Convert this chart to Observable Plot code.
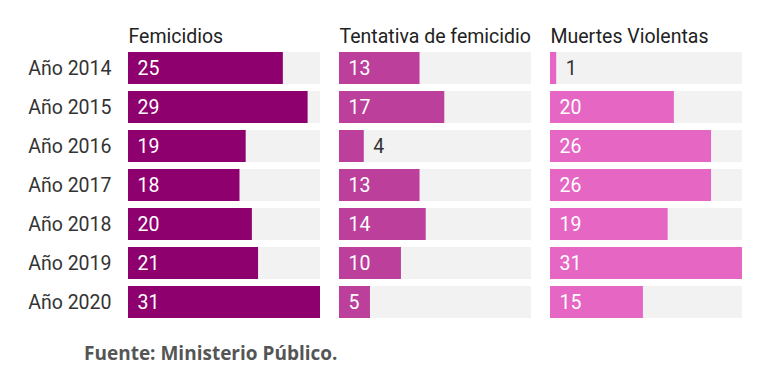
<!DOCTYPE html>
<html>
<head>
<meta charset="utf-8">
<script src="https://cdn.jsdelivr.net/npm/d3@7"></script>
<script src="https://cdn.jsdelivr.net/npm/@observablehq/plot@0.6"></script>
<style>
  html, body { margin: 0; padding: 0; background: #fff; }
  #wrap { position: relative; width: 768px; height: 377px; }
  #footer { position: absolute; left: 84px; top: 342px; font-family: "Open Sans", sans-serif; font-weight: 700; font-size: 19px; line-height: 22px; color: #555; }
</style>
</head>
<body>
<div id="wrap">
  <div id="chart"></div>
  <div id="footer">Fuente: Ministerio Público.</div>
</div>
<script>
const years = ["Año 2014", "Año 2015", "Año 2016", "Año 2017", "Año 2018", "Año 2019", "Año 2020"];
const categories = ["Femicidios", "Tentativa de femicidio", "Muertes Violentas"];
const femicidios = [25, 29, 19, 18, 20, 21, 31];
const tentativa = [13, 17, 4, 13, 14, 10, 5];
const muertes = [1, 20, 26, 26, 19, 31, 15];
const colors = ["#8f006f", "#bb3f9b", "#e566c3"];
const xMax = 31;

const series = [femicidios, tentativa, muertes];
const data = categories.flatMap((c, i) => years.map((y, j) => ({cat: c, year: y, value: series[i][j]})));

const chart = Plot.plot({
  width: 768,
  height: 330,
  marginTop: 52,
  marginBottom: 12,
  marginLeft: 128,
  marginRight: 25,
  style: {fontFamily: "Roboto", fontSize: "19.5px", color: "#333", background: "transparent"},
  fx: {domain: categories, paddingInner: 0.09, paddingOuter: 0, axis: null, label: null},
  y: {domain: years, paddingInner: 0.18, paddingOuter: 0, label: null, tickSize: 0, tickPadding: 17},
  x: {domain: [0, xMax], axis: null},
  color: {domain: categories, range: colors},
  marks: [
    Plot.barX(data, {fx: "cat", y: "year", x: () => xMax, fill: "#f2f2f2"}),
    Plot.barX(data, {fx: "cat", y: "year", x: "value", fill: "cat"}),
    Plot.text(data, {fx: "cat", y: "year", x: () => 0, text: "value", textAnchor: "start", dx: 9, fill: "white", filter: d => d.value >= 5}),
    Plot.text(data, {fx: "cat", y: "year", x: "value", text: "value", textAnchor: "start", dx: 9, fill: "#333", filter: d => d.value < 5}),
    Plot.text(categories, {fx: d => d, text: d => d, frameAnchor: "top-left", textAnchor: "start", lineAnchor: "bottom", dy: -10, fill: "#222"})
  ]
});
document.getElementById("chart").appendChild(chart);
</script>
</body>
</html>
